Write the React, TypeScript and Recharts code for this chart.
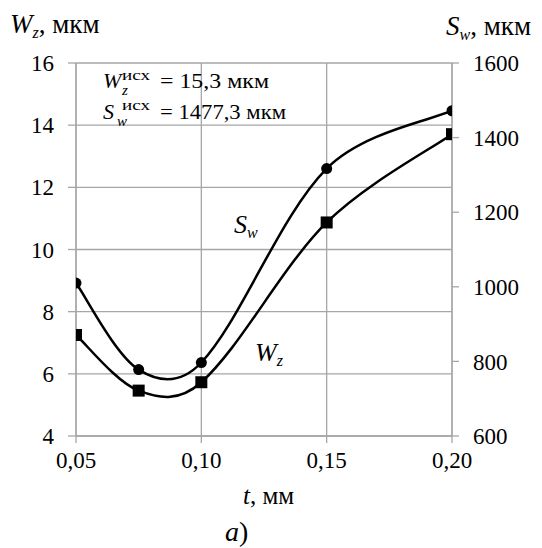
import React from 'react';
import { LineChart, Line, XAxis, YAxis, CartesianGrid } from 'recharts';

// ---- data ----
const tValues = [0.05, 0.075, 0.1, 0.15, 0.2];
const wzValues = [7.25, 5.46, 5.73, 10.87, 13.71];
const swValues = [1010, 778, 797, 1317, 1472];
const xTicks = [0.05, 0.1, 0.15, 0.2];
const wzTicks = [4, 6, 8, 10, 12, 14, 16];
const swTicks = [600, 800, 1000, 1200, 1400, 1600];

const data = tValues.map((t, i) => ({ t, wz: wzValues[i], sw: swValues[i] }));

const FONT = 'Liberation Serif, DejaVu Serif, serif';
const GRID = '#a6a6a6';

// Excel-like smoothed curve (Bezier through points)
const smoothCurve = (context: any) => {
  let xs: number[] = [];
  let ys: number[] = [];
  return {
    areaStart() {},
    areaEnd() {},
    lineStart() {
      xs = [];
      ys = [];
    },
    point(x: number, y: number) {
      xs.push(+x);
      ys.push(+y);
    },
    lineEnd() {
      const n = xs.length;
      if (!n) return;
      context.moveTo(xs[0], ys[0]);
      if (n === 1) return;
      const d = (i: number, j: number) => Math.hypot(xs[j] - xs[i], ys[j] - ys[i]);
      for (let i = 0; i < n - 1; i++) {
        const i0 = Math.max(i - 1, 0);
        const i3 = Math.min(i + 2, n - 1);
        const d01 = d(i0, i);
        const d12 = d(i, i + 1);
        const d23 = d(i + 1, i3);
        const f1 = i0 === i ? 1 / 6 : (1 / 6 + d12 / (d01 + d12) / 3) / 2;
        const f2 = i3 === i + 1 ? 1 / 6 : (1 / 6 + d12 / (d12 + d23) / 3) / 2;
        const c1x = xs[i] + (xs[i + 1] - xs[i0]) * f1;
        const c1y = ys[i] + (ys[i + 1] - ys[i0]) * f1;
        const c2x = xs[i + 1] - (xs[i3] - xs[i]) * f2;
        const c2y = ys[i + 1] - (ys[i3] - ys[i]) * f2;
        context.bezierCurveTo(c1x, c1y, c2x, c2y, xs[i + 1], ys[i + 1]);
      }
    },
  };
};

const SquareDot = (props: any) => {
  const { cx, cy, index } = props;
  if (cx == null || cy == null) return <g key={`sq-${index}`} />;
  return <rect key={`sq-${index}`} x={cx - 6} y={cy - 6} width={12} height={12} fill="#000" />;
};

const fmt = (v: number) => v.toFixed(2).replace('.', ',');

const tickStyle = { fill: '#000', fontSize: 23, fontFamily: FONT };

export default function App() {
  return (
    <div style={{ position: 'absolute', left: 0, top: 0, width: 542, height: 548, background: '#fff', fontFamily: FONT }}>
      <LineChart
        width={542}
        height={548}
        data={data}
        margin={{ top: 63, right: 30, bottom: 82, left: 16 }}
        style={{ fontFamily: FONT }}
      >
        <CartesianGrid yAxisId="left" stroke={GRID} strokeWidth={1.3} />
        <XAxis
          dataKey="t"
          type="number"
          domain={[0.05, 0.2]}
          ticks={xTicks}
          tickFormatter={fmt}
          height={30}
          tickSize={7}
          tickMargin={9}
          axisLine={{ stroke: GRID, strokeWidth: 1.3 }}
          tickLine={{ stroke: GRID, strokeWidth: 1.3 }}
          tick={tickStyle}
          allowDataOverflow
        />
        <YAxis
          yAxisId="left"
          orientation="left"
          domain={[4, 16]}
          ticks={wzTicks}
          width={60}
          tickSize={8}
          tickMargin={14}
          axisLine={{ stroke: GRID, strokeWidth: 1.3 }}
          tickLine={{ stroke: GRID, strokeWidth: 1.3 }}
          tick={tickStyle}
        />
        <YAxis
          yAxisId="right"
          orientation="right"
          domain={[600, 1600]}
          ticks={swTicks}
          width={60}
          tickSize={7}
          tickMargin={14}
          axisLine={{ stroke: GRID, strokeWidth: 1.3 }}
          tickLine={{ stroke: GRID, strokeWidth: 1.3 }}
          tick={tickStyle}
        />
        <Line
          yAxisId="right"
          dataKey="sw"
          type={smoothCurve as any}
          stroke="#000"
          strokeWidth={2.5}
          dot={{ r: 5.5, fill: '#000', stroke: '#000', strokeWidth: 0 }}
          isAnimationActive={false}
        />
        <Line
          yAxisId="left"
          dataKey="wz"
          type={smoothCurve as any}
          stroke="#000"
          strokeWidth={2.5}
          dot={<SquareDot />}
          isAnimationActive={false}
        />
      </LineChart>
      <svg
        width={542}
        height={548}
        style={{ position: 'absolute', left: 0, top: 0, pointerEvents: 'none', fontFamily: FONT }}
        fill="#000"
      >
        {/* axis titles */}
        <text x={10} y={33} fontSize={27}>
          <tspan fontStyle="italic">W</tspan>
          <tspan fontStyle="italic" fontSize={16} dy={5}>z</tspan>
          <tspan dy={-5}>, мкм</tspan>
        </text>
        <text x={446} y={35} fontSize={27}>
          <tspan fontStyle="italic">S</tspan>
          <tspan fontStyle="italic" fontSize={16} dy={5}>w</tspan>
          <tspan dy={-5}>, мкм</tspan>
        </text>
        {/* annotation */}
        <text x={103} y={88} fontSize={22} fontStyle="italic">W</text>
        <text x={122} y={95} fontSize={15} fontStyle="italic">z</text>
        <text x={122} y={80} fontSize={15} textLength={28} lengthAdjust="spacingAndGlyphs">исх</text>
        <text x={160} y={88} fontSize={21} textLength={109} lengthAdjust="spacingAndGlyphs">= 15,3 мкм</text>
        <text x={103} y={119} fontSize={22} fontStyle="italic">S</text>
        <text x={117} y={126} fontSize={15} fontStyle="italic">w</text>
        <text x={122} y={110} fontSize={15} textLength={28} lengthAdjust="spacingAndGlyphs">исх</text>
        <text x={160} y={119} fontSize={21} textLength={126} lengthAdjust="spacingAndGlyphs">= 1477,3 мкм</text>
        {/* series labels */}
        <text x={234} y={233} fontSize={26}>
          <tspan fontStyle="italic">S</tspan>
          <tspan fontStyle="italic" fontSize={16} dy={5}>w</tspan>
        </text>
        <text x={255} y={361} fontSize={26}>
          <tspan fontStyle="italic">W</tspan>
          <tspan fontStyle="italic" fontSize={16} dy={5}>z</tspan>
        </text>
        {/* x axis title */}
        <text x={243} y={504} fontSize={25}>
          <tspan fontStyle="italic">t</tspan>
          <tspan>, мм</tspan>
        </text>
        <text x={225} y={541} fontSize={28}>
          <tspan fontStyle="italic">а</tspan>
          <tspan>)</tspan>
        </text>
      </svg>
    </div>
  );
}
